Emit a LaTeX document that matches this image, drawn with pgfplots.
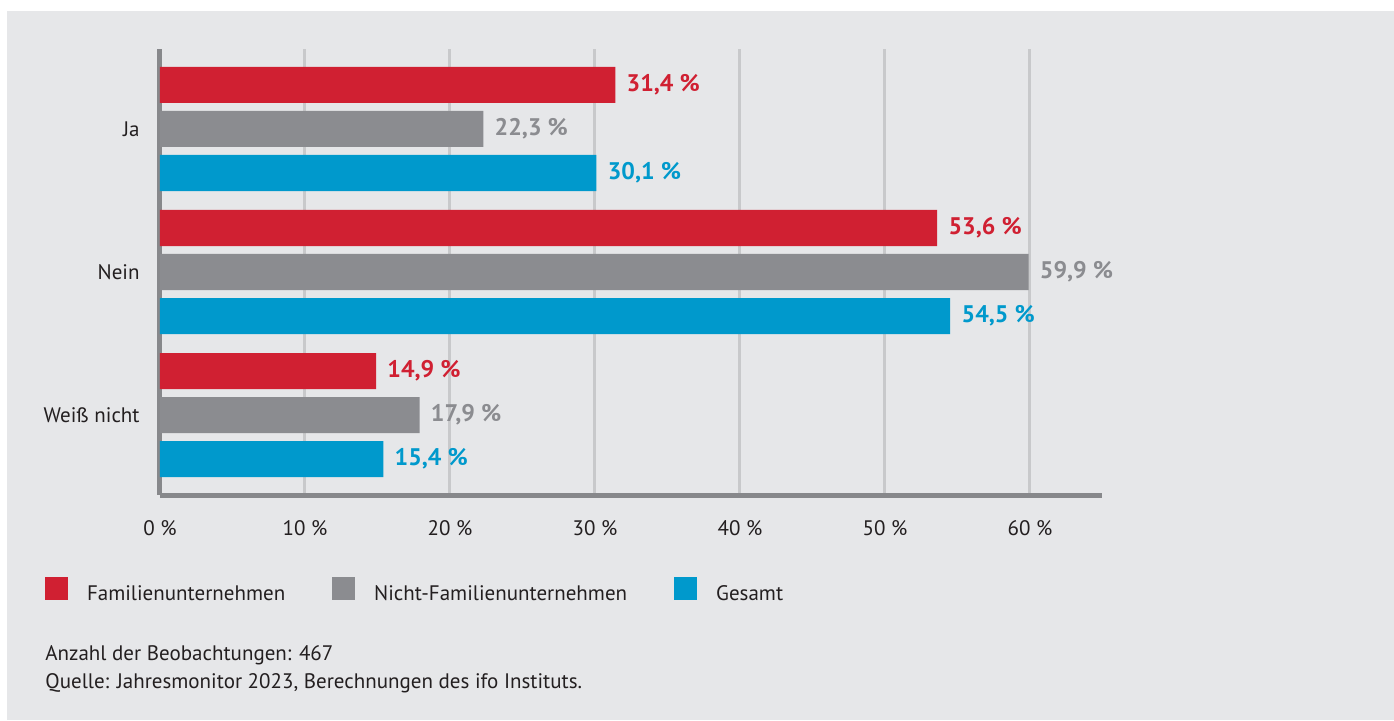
\documentclass[border=0pt]{standalone}
\usepackage{fontspec}
\setmainfont{PT Sans}
\usepackage{pgfplots}
\pgfplotsset{compat=1.18}
\definecolor{bgc}{RGB}{230,231,233}
\definecolor{cred}{RGB}{208,32,50}
\definecolor{cgray}{RGB}{139,140,144}
\definecolor{cblue}{RGB}{0,153,204}
\definecolor{gridc}{RGB}{200,201,203}
\definecolor{axisc}{RGB}{135,136,139}
\definecolor{txt}{RGB}{35,31,32}
\begin{document}
\begin{tikzpicture}[x=1pt,y=1pt]
\useasboundingbox (0,0) rectangle (697,-360);
\fill[white] (0,0) rectangle (697,-360);
\fill[bgc] (3.5,-5.5) rectangle (697,-360);
\begin{axis}[
  at={(80pt,-247.5pt)}, anchor=south west,
  scale only axis, width=471.25pt, height=223pt,
  xbar, bar width=0.252,
  xmin=0, xmax=65, ymin=-0.559, ymax=2.559,
  y dir=reverse,
  axis x line=bottom, axis y line=left,
  axis line style={-, color=axisc, line width=2.5pt},
  xtick={0,10,20,30,40,50,60},
  xticklabels={0 \%,10 \%,20 \%,30 \%,40 \%,50 \%,60 \%},
  ytick={0,1,2},
  yticklabels={Ja,Nein,Weiß nicht},
  major tick length=0pt,
  tick label style={font=\fontsize{10.5}{12}\selectfont, text=txt},
  xticklabel style={anchor=base, yshift=-20pt},
  yticklabel style={anchor=east, inner sep=0pt, xshift=-10pt},
  xmajorgrids, major grid style={gridc, line width=1.5pt},
  point meta=x,
  nodes near coords={\pgfmathprintnumber[fixed,fixed zerofill,precision=1,use comma,assume math mode=true]{\pgfplotspointmeta}~\%},
  nodes near coords style={anchor=west, inner sep=0pt, xshift=5.5pt, font=\fontsize{12}{13}\selectfont\bfseries},
  legend columns=3,
  legend style={at={(-0.122,-0.2141)}, anchor=west, draw=none, fill=none, inner sep=0pt, outer sep=0pt,
    font=\fontsize{10.5}{12}\selectfont, text=txt,
    nodes={inner sep=0pt},
    /tikz/every odd column/.append style={column sep=9.5pt},
    /tikz/every even column/.append style={column sep=23.5pt}},
  legend image code/.code={\fill[#1] (0pt,-2.6pt) rectangle (11.5pt,8.9pt);},
]
\addplot[fill=cred, draw=none, bar shift=-0.3077, nodes near coords style={text=cred}] coordinates {(31.4,0) (53.6,1) (14.9,2)};
\addplot[fill=cgray, draw=none, bar shift=0, nodes near coords style={text=cgray}] coordinates {(22.3,0) (59.9,1) (17.9,2)};
\addplot[fill=cblue, draw=none, bar shift=0.3077, nodes near coords style={text=cblue}] coordinates {(30.1,0) (54.5,1) (15.4,2)};
\legend{Familienunternehmen,Nicht-Familienunternehmen,Gesamt}
\end{axis}
\node[anchor=base west, inner sep=0pt, text=txt, font=\fontsize{10.5}{12}\selectfont] at (22.5,-330) {Anzahl der Beobachtungen: 467};
\node[anchor=base west, inner sep=0pt, text=txt, font=\fontsize{10.5}{12}\selectfont] at (22.5,-344) {Quelle: Jahresmonitor 2023, Berechnungen des ifo Instituts.};
\end{tikzpicture}
\end{document}
